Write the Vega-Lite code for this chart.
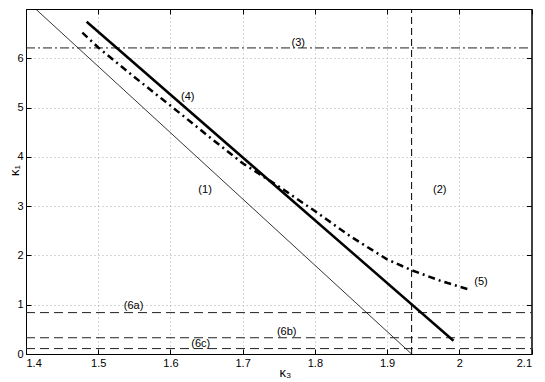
{
  "$schema": "https://vega.github.io/schema/vega-lite/v6.json",
  "autosize": "none",
  "width": 505.5,
  "height": 345,
  "padding": {"left": 26, "top": 9, "right": 13.5, "bottom": 28},
  "background": "white",
  "config": {
    "view": {"stroke": "black", "strokeWidth": 1},
    "font": "Liberation Sans",
    "axis": {
      "labelFont": "Liberation Sans", "labelFontSize": 11, "labelColor": "black",
      "titleFont": "Liberation Sans", "titleFontSize": 13, "titleFontWeight": "normal", "titleColor": "black",
      "domainColor": "black", "tickColor": "black", "tickSize": -5,
      "gridColor": "#999999", "gridDash": [1, 3], "gridWidth": 0.8
    }
  },
  "resolve": {"axis": {"x": "independent", "y": "independent"}},
  "datasets": {
    "lines": [
      {"series": "1", "x": 1.4, "y": 7.18},
      {"series": "1", "x": 1.934, "y": 0},
      {"series": "2", "x": 1.934, "y": 0},
      {"series": "2", "x": 1.934, "y": 7},
      {"series": "3", "x": 1.4, "y": 6.21},
      {"series": "3", "x": 2.1, "y": 6.21},
      {"series": "4", "x": 1.484, "y": 6.74},
      {"series": "4", "x": 1.992, "y": 0.27},
      {"series": "5", "x": 1.478, "y": 6.52},
      {"series": "5", "x": 1.5, "y": 6.22},
      {"series": "5", "x": 1.55, "y": 5.62},
      {"series": "5", "x": 1.6, "y": 5.04},
      {"series": "5", "x": 1.65, "y": 4.45},
      {"series": "5", "x": 1.7, "y": 3.87},
      {"series": "5", "x": 1.75, "y": 3.4},
      {"series": "5", "x": 1.8, "y": 2.9},
      {"series": "5", "x": 1.85, "y": 2.38},
      {"series": "5", "x": 1.9, "y": 1.92},
      {"series": "5", "x": 1.934, "y": 1.7},
      {"series": "5", "x": 1.975, "y": 1.48},
      {"series": "5", "x": 2.013, "y": 1.31},
      {"series": "6a", "x": 1.4, "y": 0.84},
      {"series": "6a", "x": 2.1, "y": 0.84},
      {"series": "6b", "x": 1.4, "y": 0.33},
      {"series": "6b", "x": 2.1, "y": 0.33},
      {"series": "6c", "x": 1.4, "y": 0.11},
      {"series": "6c", "x": 2.1, "y": 0.11}
    ],
    "labels": [
      {"label": "(1)", "x": 1.648, "y": 3.32},
      {"label": "(2)", "x": 1.973, "y": 3.32},
      {"label": "(3)", "x": 1.777, "y": 6.32},
      {"label": "(4)", "x": 1.624, "y": 5.22},
      {"label": "(5)", "x": 2.03, "y": 1.46},
      {"label": "(6a)", "x": 1.549, "y": 0.97},
      {"label": "(6b)", "x": 1.761, "y": 0.45},
      {"label": "(6c)", "x": 1.642, "y": 0.2}
    ]
  },
  "layer": [
    {
      "data": {"name": "lines"},
      "transform": [{"filter": "datum.series === '1'"}],
      "mark": {"type": "line", "color": "black", "strokeWidth": 0.8, "clip": true},
      "encoding": {
        "x": {"field": "x", "type": "quantitative", "scale": {"domain": [1.4, 2.1], "nice": false},
              "axis": {"values": [1.4, 1.5, 1.6, 1.7, 1.8, 1.9, 2.0, 2.1], "format": "~g", "title": "κ₃", "grid": true, "labelPadding": 8, "titlePadding": -2, "titleX": 259}},
        "y": {"field": "y", "type": "quantitative", "scale": {"domain": [0, 7], "nice": false},
              "axis": {"values": [0, 1, 2, 3, 4, 5, 6], "title": "κ₁", "grid": true, "labelPadding": 8, "titleX": -5, "titleY": 161}},
        "order": {"field": "x"}
      }
    },
    {
      "data": {"name": "lines"},
      "transform": [{"filter": "datum.series === '2'"}],
      "mark": {"type": "line", "color": "black", "strokeWidth": 1, "strokeDash": [7, 4]},
      "encoding": {
        "x": {"field": "x", "type": "quantitative", "axis": {"orient": "top", "values": [1.4, 1.5, 1.6, 1.7, 1.8, 1.9, 2.0, 2.1], "labels": false, "title": null, "grid": false}},
        "y": {"field": "y", "type": "quantitative", "axis": {"orient": "right", "values": [0, 1, 2, 3, 4, 5, 6], "labels": false, "title": null, "grid": false}},
        "order": {"field": "y"}
      }
    },
    {
      "data": {"name": "lines"},
      "transform": [{"filter": "datum.series === '3'"}],
      "mark": {"type": "line", "color": "#222222", "strokeWidth": 1, "strokeDash": [9, 3, 2, 3]},
      "encoding": {"x": {"field": "x", "type": "quantitative", "axis": null}, "y": {"field": "y", "type": "quantitative", "axis": null}, "order": {"field": "x"}}
    },
    {
      "data": {"name": "lines"},
      "transform": [{"filter": "datum.series === '6a' || datum.series === '6b' || datum.series === '6c'"}],
      "mark": {"type": "line", "color": "#222222", "strokeWidth": 1, "strokeDash": [9, 5]},
      "encoding": {"x": {"field": "x", "type": "quantitative", "axis": null}, "y": {"field": "y", "type": "quantitative", "axis": null}, "detail": {"field": "series"}, "order": {"field": "x"}}
    },
    {
      "data": {"name": "lines"},
      "transform": [{"filter": "datum.series === '4'"}],
      "mark": {"type": "line", "color": "black", "strokeWidth": 2.5},
      "encoding": {"x": {"field": "x", "type": "quantitative", "axis": null}, "y": {"field": "y", "type": "quantitative", "axis": null}, "order": {"field": "x"}}
    },
    {
      "data": {"name": "lines"},
      "transform": [{"filter": "datum.series === '5'"}],
      "mark": {"type": "line", "color": "black", "strokeWidth": 2.5, "strokeDash": [7, 4, 2, 4]},
      "encoding": {"x": {"field": "x", "type": "quantitative", "axis": null}, "y": {"field": "y", "type": "quantitative", "axis": null}, "order": {"field": "x"}}
    },
    {
      "data": {"name": "labels"},
      "mark": {"type": "text", "fontSize": 11, "color": "black", "font": "Liberation Sans"},
      "encoding": {"x": {"field": "x", "type": "quantitative", "axis": null}, "y": {"field": "y", "type": "quantitative", "axis": null}, "text": {"field": "label"}}
    }
  ]
}
